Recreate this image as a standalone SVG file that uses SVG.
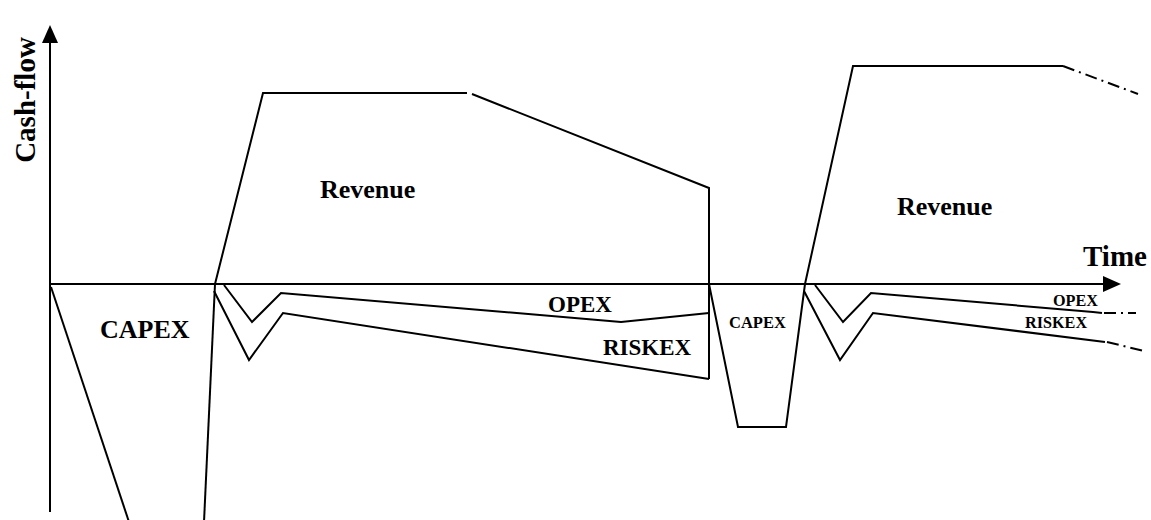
<svg xmlns="http://www.w3.org/2000/svg" width="1151" height="520" viewBox="0 0 1151 520">
  <defs>
    <style>
      .ln { fill: none; stroke: #000; stroke-width: 2; stroke-linejoin: miter; }
      .dd { fill: none; stroke: #000; stroke-width: 2; stroke-dasharray: 12 5 2 5; }
      .lbl { font-family: "Liberation Serif", "Times New Roman", serif; font-weight: bold; fill: #000; }
    </style>
  </defs>
  <rect width="1151" height="520" fill="#fff"/>

  <!-- axes -->
  <g id="axes">
    <line class="ln" x1="50" y1="512" x2="50" y2="40"/>
    <polygon points="50,25 42,43 58,43" fill="#000"/>
    <line class="ln" x1="50" y1="284" x2="1105" y2="284"/>
    <polygon points="1121,284 1103,276 1103,292" fill="#000"/>
    <text class="lbl" font-size="29" transform="translate(35,100) rotate(-90)" text-anchor="middle">Cash-flow</text>
    <text class="lbl" font-size="29" x="1083" y="266">Time</text>
  </g>

  <!-- first project cycle -->
  <g id="capex-1">
    <polyline class="ln" points="51,287 129,522"/>
    <polyline class="ln" points="215,284 204,522"/>
    <text class="lbl" font-size="26" x="100" y="338">CAPEX</text>
  </g>
  <g id="revenue-1">
    <polyline class="ln" points="215,284 263,93 467,93"/>
    <polyline class="ln" points="472,94 709,188 709,379"/>
    <text class="lbl" font-size="26" x="320" y="198">Revenue</text>
  </g>
  <g id="opex-1">
    <polyline class="ln" points="224,285 252,322 281,293 621,322 709,313"/>
    <text class="lbl" font-size="23" x="548" y="312">OPEX</text>
  </g>
  <g id="riskex-1">
    <polyline class="ln" points="214,291 249,360 283,313 709,379"/>
    <text class="lbl" font-size="23" x="603" y="355">RISKEX</text>
  </g>

  <!-- second project cycle -->
  <g id="capex-2">
    <polyline class="ln" points="709,284 738,427 786,427 805,284"/>
    <text class="lbl" font-size="16.5" x="729" y="328">CAPEX</text>
  </g>
  <g id="revenue-2">
    <polyline class="ln" points="805,284 853,66 1063,66"/>
    <line class="dd" x1="1063" y1="66" x2="1138" y2="94"/>
    <text class="lbl" font-size="26" x="897" y="215">Revenue</text>
  </g>
  <g id="opex-2">
    <polyline class="ln" points="815,285 843,322 871,293 1093,312 1102,313"/>
    <line class="dd" x1="1104" y1="313" x2="1136" y2="313"/>
    <text class="lbl" font-size="16.2" x="1053" y="306">OPEX</text>
  </g>
  <g id="riskex-2">
    <polyline class="ln" points="804,291 840,360 873,313 1105,342"/>
    <line class="dd" x1="1107" y1="342" x2="1144" y2="351"/>
    <text class="lbl" font-size="16.2" x="1025" y="328">RISKEX</text>
  </g>
</svg>
